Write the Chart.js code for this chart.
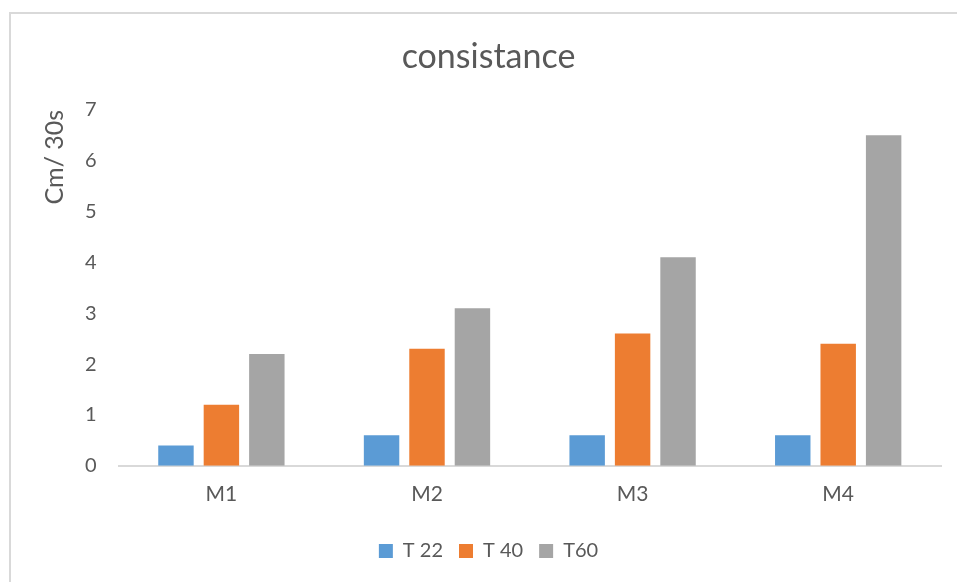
<!DOCTYPE html>
<html>
<head>
<meta charset="utf-8">
<script src="https://cdn.jsdelivr.net/npm/chart.js@4/dist/chart.umd.min.js"></script>
<style>
  html, body { margin: 0; padding: 0; background: #ffffff; overflow: hidden; }
  #frame {
    position: absolute; left: 9px; top: 12px; width: 1000px; height: 600px;
    border-left: 2px solid #d9d9d9; border-top: 2px solid #d9d9d9; box-sizing: border-box;
  }
  #wrap { position: absolute; left: 0; top: 0; width: 957px; height: 582px; }
</style>
</head>
<body>
<div id="frame"></div>
<div id="wrap"><canvas id="chart" width="957" height="582"></canvas></div>
<script>
const categories = ['M1', 'M2', 'M3', 'M4'];
const seriesNames = ['T 22', 'T 40', 'T60'];
const t22 = [0.4, 0.6, 0.6, 0.6];
const t40 = [1.2, 2.3, 2.6, 2.4];
const t60 = [2.2, 3.1, 4.1, 6.5];
const yTicks = [0, 1, 2, 3, 4, 5, 6, 7];

const colors = ['#5B9BD5', '#ED7D31', '#A5A5A5'];
const textColor = '#595959';
const fontFamily = "Lato, 'Open Sans', sans-serif";

new Chart(document.getElementById('chart'), {
  type: 'bar',
  data: {
    labels: categories,
    datasets: [t22, t40, t60].map((vals, i) => ({
      label: seriesNames[i],
      data: vals,
      backgroundColor: colors[i],
      borderWidth: 0,
      categoryPercentage: 0.663,
      barPercentage: 0.78
    }))
  },
  options: {
    responsive: false,
    animation: false,
    devicePixelRatio: 1,
    layout: { padding: { left: 36, right: 16, top: 27, bottom: 11 } },
    plugins: {
      title: {
        display: true,
        text: 'consistance',
        color: textColor,
        font: { family: fontFamily, size: 34, weight: 'normal' },
        padding: { top: 10, bottom: 32 }
      },
      legend: {
        position: 'bottom',
        labels: {
          color: textColor,
          font: { family: fontFamily, size: 20 },
          boxWidth: 14,
          boxHeight: 14,
          padding: 16
        }
      },
      tooltip: { enabled: false }
    },
    scales: {
      x: {
        afterFit: (axis) => { axis.height += 2; },
        grid: { display: false, drawTicks: false },
        border: { display: true, color: '#d9d9d9', width: 2 },
        ticks: { color: textColor, font: { family: fontFamily, size: 21 }, padding: 16 }
      },
      y: {
        min: 0,
        max: 7,
        afterBuildTicks: (axis) => { axis.ticks = yTicks.map(v => ({ value: v })); },
        grid: { display: false, drawTicks: false },
        border: { display: false },
        ticks: { color: textColor, font: { family: fontFamily, size: 20 }, padding: 22 },
        title: {
          display: true,
          text: 'Cm/ 30s',
          align: 'end',
          color: textColor,
          font: { family: fontFamily, size: 25 },
          padding: { top: 4, bottom: -7 }
        }
      }
    }
  }
});
</script>
</body>
</html>
